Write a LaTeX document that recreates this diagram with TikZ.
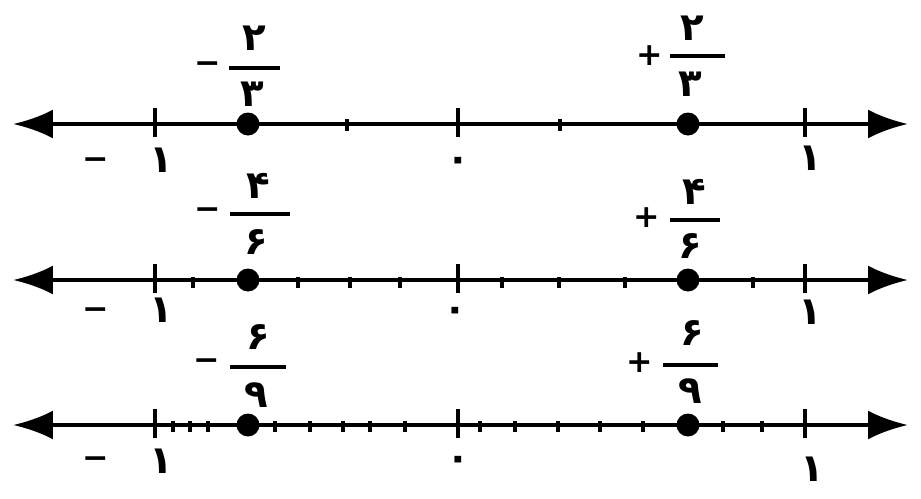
\documentclass[tikz,border=0pt]{standalone}
\usepackage{fontspec}
\usetikzlibrary{arrows.meta, positioning}
\newfontfamily\farsi[Script=Arabic]{DejaVu Sans}

\tikzset{
  numline/.style={line width=2.4pt, {Latex[length=0.8cm,width=0.58cm]}-{Latex[length=0.8cm,width=0.58cm]}},
  bigtick/.style={line width=2.8pt},
  smalltick/.style={line width=2.4pt},
  fracbar/.style={line width=2pt},
  dot/.style={circle, fill, inner sep=0pt, minimum size=0.46cm},
  digit/.style={font=\farsi\bfseries\fontsize{22}{26}\selectfont, inner sep=0pt},
  sign/.style={font=\farsi\bfseries\fontsize{18}{22}\selectfont, inner sep=0pt},
}

\begin{document}
\begin{tikzpicture}[x=0.02cm, y=-0.02cm]
    \useasboundingbox (0,0) rectangle (921,498);

    % thirds
    \begin{scope}[shift={(0,124)}]
        \coordinate (aw) at (13,0);
        \coordinate (ae) at (908,0);
        \draw[numline] (aw) -- (ae);
        \foreach \t in {155,458,805} \draw[bigtick] (\t,-16) -- (\t,13);
        \foreach \t in {347,560} \draw[smalltick] (\t,-5) -- (\t,7);
        \node[dot] (ap) at (248,0) {};
        \node[dot] (aq) at (688,0) {};

        % -2/3
        \node[sign] (am) at (208,-56) {−};
        \draw[fracbar] (229,-56) -- (280,-56);
        \node[digit] (an) at (254,-86) {۲};
        \node[digit] (ad) at (252,-30) {۳};
        % +2/3
        \node[sign] (apl) at (650,-68) {+};
        \draw[fracbar] (670,-68) -- (725,-68);
        \node[digit] (bn) at (692,-96) {۲};
        \node[digit] (bd) at (690,-40) {۳};

        % -1, 0, 1
        \node[sign] (amin) at (96,40) {−};
        \node[digit] (a1) at (161,36) {۱};
        \node[digit] (a0) at (458,40) {۰};
        \node[digit] (a2) at (810,34) {۱};
    \end{scope}

    % sixths
    \begin{scope}[shift={(0,280)}]
        \coordinate (bw) at (13,0);
        \coordinate (be) at (908,0);
        \draw[numline] (bw) -- (be);
        \foreach \t in {155,458,805} \draw[bigtick] (\t,-16) -- (\t,13);
        \foreach \t in {193,298,350,400,502,559,625,753} \draw[smalltick] (\t,-3) -- (\t,8);
        \node[dot] (bp) at (248,0) {};
        \node[dot] (bq) at (688,0) {};

        % -4/6
        \node[sign] (bm) at (208,-66) {−};
        \draw[fracbar] (230,-66) -- (290,-66);
        \node[digit] (cn) at (258,-94) {۴};
        \node[digit] (cd) at (256,-38) {۶};
        % +4/6
        \node[sign] (bpl) at (647,-62) {+};
        \draw[fracbar] (670,-60) -- (720,-60);
        \node[digit] (dn) at (694,-88) {۴};
        \node[digit] (dd) at (690,-34) {۶};

        % -1, 0, 1
        \node[sign] (bmin) at (96,34) {−};
        \node[digit] (b1) at (161,30) {۱};
        \node[digit] (b0) at (455,34) {۰};
        \node[digit] (b2) at (810,32) {۱};
    \end{scope}

    % ninths
    \begin{scope}[shift={(0,425)}]
        \coordinate (cw) at (13,0);
        \coordinate (ce) at (908,0);
        \draw[numline] (cw) -- (ce);
        \foreach \t in {155,458,805} \draw[bigtick] (\t,-16) -- (\t,13);
        \foreach \t in {173,190,208,275,310,343,370,405,480,515,558,600,643,723,762} \draw[smalltick] (\t,-4) -- (\t,7);
        \node[dot] (cp) at (248,0) {};
        \node[dot] (cq) at (688,0) {};

        % -6/9
        \node[sign] (cm) at (207,-60) {−};
        \draw[fracbar] (230,-58) -- (286,-58);
        \node[digit] (en) at (258,-88) {۶};
        \node[digit] (ed) at (256,-30) {۹};
        % +6/9
        \node[sign] (cpl) at (640,-62) {+};
        \draw[fracbar] (663,-60) -- (718,-60);
        \node[digit] (fn) at (692,-92) {۶};
        \node[digit] (fd) at (690,-34) {۹};

        % -1, 0, 1
        \node[sign] (cmin) at (96,38) {−};
        \node[digit] (c1) at (161,36) {۱};
        \node[digit] (c0) at (458,38) {۰};
        \node[digit] (c2) at (812,44) {۱};
    \end{scope}
\end{tikzpicture}
\end{document}
